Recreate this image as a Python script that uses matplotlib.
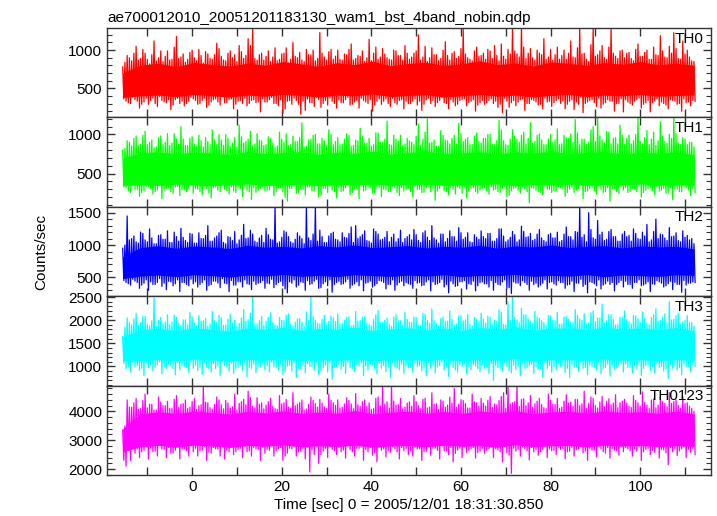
import numpy as np
import matplotlib.pyplot as plt
from matplotlib.ticker import MultipleLocator

plt.rcParams['font.family'] = ['Liberation Sans', 'DejaVu Sans']

#------------------------------------------------DATA------------------------------------------------
# 1 sec bins: main peak (hi), main trough (lo), second peak (hi2), second trough (lo2),
# plus the dense core band every ~4 sec
t = np.arange(-15.5, 112, 1.0)
tc = np.linspace(-15.5, 112.0, 33)

th0_hi = [780, 930, 860, 1050, 890, 960, 820, 1120, 900, 850, 990, 880, 1180, 910, 840, 970,
          900, 1010, 830, 950, 880, 1090, 920, 860, 990, 940, 1060, 890, 1150, 1290, 870, 960,
          920, 850, 1030, 880, 960, 830, 1100, 900, 870, 1010, 940, 860, 1230, 910, 980, 880,
          1000, 870, 940, 1080, 890, 920, 850, 1140, 960, 880, 1020, 900, 870, 990, 930, 1060,
          880, 960, 1200, 910, 850, 1030, 940, 890, 1110, 870, 980, 920, 1270, 900, 860, 1040,
          930, 880, 990, 1060, 860, 920, 1010, 1300, 950, 1310, 890, 1020, 870, 960, 1150, 910,
          870, 1040, 930, 880, 1120, 900, 1290, 960, 850, 1300, 940, 1060, 880, 1280, 920, 990,
          900, 970, 860, 1080, 920, 1000, 880, 940, 1190, 910, 1050, 1230, 890, 1120, 1000, 860]
th0_lo = [330, 300, 350, 240, 320, 290, 370, 260, 340, 310, 220, 350, 300, 270, 330, 360,
          290, 340, 250, 320, 360, 280, 310, 350, 230, 330, 300, 270, 340, 310, 190, 320,
          350, 300, 270, 170, 330, 290, 340, 160, 210, 310, 260, 350, 300, 280, 330, 240,
          310, 350, 280, 320, 240, 340, 300, 200, 330, 290, 360, 260, 310, 340, 230, 300,
          330, 280, 210, 350, 300, 260, 340, 310, 230, 320, 290, 350, 270, 330, 200, 310,
          290, 340, 300, 250, 180, 330, 310, 270, 350, 210, 300, 340, 280, 230, 320, 260,
          340, 300, 230, 330, 220, 290, 180, 320, 350, 260, 240, 310, 330, 200, 300, 190,
          320, 280, 350, 240, 310, 190, 330, 270, 300, 230, 340, 290, 200, 310, 270, 330]
th0_hi2 = [840, 900, 960, 870, 1010, 880, 940, 860, 990, 920, 870, 1040, 890, 950, 880, 1000,
           860, 930, 980, 890, 940, 1020, 870, 960, 900, 850, 980, 930, 1060, 890, 940, 870,
           990, 910, 860, 950, 1030, 880, 920, 970, 850, 940, 1000, 890, 960, 870, 1010, 920,
           880, 950, 1010, 870, 930, 990, 900, 860, 1040, 910, 950, 880, 1000, 930, 870, 960,
           910, 990, 870, 1050, 900, 940, 860, 1000, 930, 960, 890, 1020, 950, 880, 990, 920,
           960, 1010, 890, 930, 1080, 880, 950, 990, 910, 1040, 960, 900, 1000, 940, 880, 1010,
           940, 880, 1000, 960, 910, 1030, 950, 880, 1070, 920, 990, 900, 1040, 960, 890, 1000,
           960, 890, 1010, 920, 970, 880, 1040, 930, 990, 900, 960, 1020, 880, 950, 910, 850]
th0_lo2 = [360, 310, 380, 330, 290, 370, 340, 300, 390, 320, 350, 280, 370, 330, 300, 380,
           340, 300, 370, 280, 350, 320, 390, 310, 360, 290, 340, 370, 300, 350, 320, 360,
           320, 380, 300, 350, 230, 340, 370, 290, 330, 360, 310, 380, 250, 340, 370, 300,
           350, 310, 380, 290, 340, 370, 320, 350, 280, 360, 330, 300, 370, 290, 350, 330,
           300, 360, 330, 290, 370, 340, 310, 380, 300, 350, 270, 340, 360, 310, 350, 280,
           340, 310, 360, 330, 290, 370, 250, 340, 320, 360, 300, 350, 320, 290, 370, 330,
           310, 360, 330, 290, 350, 320, 380, 300, 340, 310, 370, 290, 350, 330, 300, 360,
           350, 300, 330, 370, 290, 340, 310, 360, 320, 280, 350, 330, 300, 360, 320, 340]
th0_clo = [380, 400, 410, 390, 420, 400, 385, 410, 395, 420, 405, 385, 410, 400, 425, 390, 405,
           415, 385, 400, 420, 395, 410, 385, 405, 420, 390, 410, 400, 420, 395, 405, 410]
th0_chi = [700, 800, 830, 780, 840, 810, 790, 830, 800, 850, 820, 785, 835, 810, 855, 795, 825,
           840, 800, 820, 860, 810, 830, 790, 845, 825, 800, 835, 815, 850, 805, 830, 800]

th1_hi = [800, 920, 850, 980, 880, 1040, 900, 830, 960, 870, 1010, 890, 940, 1100, 860, 950,
          880, 990, 840, 910, 1060, 870, 930, 1000, 850, 960, 1120, 890, 940, 860, 1010, 920,
          870, 950, 830, 1030, 900, 860, 980, 910, 1150, 850, 940, 1000, 880, 920, 1060, 870,
          960, 880, 1010, 850, 930, 1080, 890, 950, 870, 1020, 900, 1170, 860, 940, 990, 880,
          920, 870, 1130, 940, 1200, 900, 850, 1050, 930, 880, 990, 1140, 910, 960, 870, 1020,
          890, 950, 1000, 870, 1180, 920, 860, 1060, 940, 990, 880, 1150, 910, 1010, 870, 940,
          900, 1070, 880, 960, 1010, 1190, 870, 940, 900, 1100, 1220, 930, 1040, 880, 960, 1120,
          870, 990, 920, 1210, 880, 1050, 940, 860, 1160, 910, 1000, 1220, 890, 960, 870, 900]
th1_lo = [320, 260, 300, 210, 280, 330, 240, 290, 180, 310, 270, 330, 220, 290, 310, 250,
          300, 230, 310, 190, 330, 270, 300, 240, 280, 320, 210, 290, 170, 260, 310, 280,
          290, 220, 320, 270, 150, 310, 250, 300, 230, 330, 280, 200, 310, 260, 290, 190,
          270, 320, 230, 300, 180, 280, 330, 250, 310, 210, 290, 270, 320, 220, 280, 310,
          200, 300, 260, 320, 270, 160, 310, 280, 230, 300, 330, 250, 190, 310, 270, 290,
          320, 240, 290, 270, 310, 200, 280, 320, 250, 300, 130, 310, 270, 230, 300, 260,
          280, 320, 210, 300, 260, 310, 180, 280, 320, 240, 300, 270, 150, 310, 250, 290,
          260, 310, 270, 200, 290, 320, 230, 280, 310, 250, 170, 300, 270, 320, 220, 260]
th1_hi2 = [820, 900, 950, 860, 990, 870, 930, 840, 980, 900, 860, 1010, 880, 940, 860, 970,
           850, 920, 960, 870, 930, 1000, 860, 950, 890, 840, 970, 910, 1040, 880, 930, 860,
           970, 890, 850, 940, 1010, 870, 910, 960, 840, 930, 990, 880, 950, 860, 1000, 910,
           870, 940, 990, 860, 920, 980, 890, 850, 1020, 900, 940, 870, 990, 920, 860, 950,
           900, 980, 860, 1030, 890, 930, 850, 990, 920, 950, 880, 1010, 940, 870, 980, 910,
           950, 1000, 880, 920, 1060, 870, 940, 980, 900, 1030, 950, 890, 990, 930, 870, 1000,
           930, 870, 990, 950, 900, 1020, 940, 870, 1060, 910, 980, 890, 1030, 950, 880, 990,
           950, 880, 1000, 910, 960, 870, 1030, 920, 980, 890, 950, 1010, 870, 940, 900, 840]
th1_lo2 = [330, 280, 350, 300, 260, 340, 310, 270, 360, 290, 320, 250, 340, 300, 270, 350,
           310, 270, 340, 250, 320, 290, 360, 280, 330, 260, 310, 340, 270, 320, 290, 330,
           290, 350, 270, 320, 200, 310, 340, 260, 300, 330, 280, 350, 220, 310, 340, 270,
           320, 280, 350, 260, 310, 340, 290, 320, 250, 330, 300, 270, 340, 260, 320, 300,
           270, 330, 300, 260, 340, 310, 280, 350, 270, 320, 240, 310, 330, 280, 320, 250,
           310, 280, 330, 300, 260, 340, 220, 310, 290, 330, 270, 320, 290, 260, 340, 300,
           280, 330, 300, 260, 320, 290, 350, 270, 310, 280, 340, 260, 320, 300, 270, 330,
           320, 270, 300, 340, 260, 310, 280, 330, 290, 250, 320, 300, 270, 330, 290, 310]
th1_clo = [350, 360, 350, 365, 355, 345, 360, 370, 350, 355, 365, 345, 360, 355, 370, 350, 360,
           365, 350, 355, 360, 370, 345, 360, 355, 365, 350, 360, 355, 370, 350, 360, 355]
th1_chi = [700, 760, 780, 750, 775, 765, 740, 785, 755, 770, 780, 745, 775, 760, 790, 750, 770,
           785, 755, 765, 780, 750, 775, 760, 785, 755, 770, 780, 750, 775, 760, 780, 740]

th2_hi = [950, 1450, 1100, 1050, 1200, 1080, 1250, 1020, 1150, 1090, 1220, 1040, 1130, 1260, 1070, 1180,
          1030, 1190, 1100, 1300, 1060, 1140, 1230, 1020, 1120, 1210, 1080, 1320, 1110, 1170, 1040, 1150,
          1260, 1090, 1600, 1050, 1220, 1130, 1030, 1190, 1100, 1600, 1070, 1600, 1230, 1040, 1140, 1200,
          1080, 1190, 1110, 1280, 1300, 1130, 1220, 1060, 1250, 1170, 1090, 1210, 1120, 1050, 1230, 1100,
          1160, 1240, 1070, 1190, 1120, 1300, 1080, 1170, 1050, 1220, 1130, 1270, 1090, 1190, 1040, 1120,
          1220, 1100, 1180, 1060, 1250, 1140, 1080, 1210, 1050, 1290, 1120, 1180, 1090, 1240, 1070, 1160,
          1110, 1200, 1070, 1280, 1130, 1210, 1600, 1160, 1500, 1110, 1380, 1200, 1090, 1240, 1130, 1060,
          1210, 1150, 1250, 1100, 1200, 1320, 1080, 1400, 1170, 1110, 1270, 1140, 1070, 1220, 1150, 1100]
th2_lo = [420, 380, 440, 330, 410, 300, 390, 420, 360, 310, 430, 400, 280, 420, 370, 400,
          350, 420, 300, 390, 440, 340, 410, 280, 380, 430, 350, 400, 310, 390, 420, 330,
          400, 340, 420, 370, 260, 410, 350, 430, 300, 390, 440, 330, 400, 370, 270, 420,
          390, 430, 330, 400, 370, 290, 420, 350, 400, 440, 320, 390, 300, 420, 370, 400,
          330, 410, 370, 430, 290, 390, 420, 350, 260, 400, 370, 430, 320, 390, 290, 420,
          400, 350, 300, 390, 430, 330, 250, 410, 370, 420, 300, 390, 350, 410, 320, 430,
          380, 420, 330, 390, 280, 410, 360, 260, 420, 370, 320, 400, 390, 290, 420, 350,
          390, 330, 420, 370, 400, 280, 390, 430, 350, 400, 310, 390, 270, 380, 410, 420]
th2_hi2 = [1000, 1080, 1140, 1030, 1180, 1050, 1110, 1020, 1160, 1090, 1040, 1200, 1060, 1120, 1040, 1170,
           1030, 1100, 1150, 1060, 1110, 1190, 1040, 1130, 1070, 1020, 1150, 1100, 1230, 1060, 1110, 1040,
           1160, 1080, 1030, 1120, 1200, 1050, 1090, 1140, 1020, 1110, 1170, 1060, 1130, 1040, 1180, 1090,
           1050, 1120, 1180, 1040, 1100, 1160, 1070, 1030, 1210, 1080, 1120, 1050, 1170, 1100, 1040, 1130,
           1080, 1160, 1040, 1220, 1070, 1110, 1030, 1170, 1100, 1130, 1060, 1190, 1120, 1050, 1160, 1090,
           1130, 1180, 1060, 1100, 1250, 1050, 1120, 1160, 1080, 1210, 1130, 1070, 1170, 1110, 1050, 1180,
           1110, 1050, 1170, 1130, 1080, 1200, 1120, 1050, 1240, 1090, 1160, 1070, 1210, 1130, 1060, 1170,
           1130, 1060, 1180, 1090, 1140, 1050, 1210, 1100, 1160, 1070, 1130, 1190, 1050, 1120, 1080, 1020]
th2_lo2 = [450, 400, 470, 420, 380, 460, 430, 390, 480, 410, 440, 370, 460, 420, 390, 470,
           430, 390, 460, 370, 440, 410, 480, 400, 450, 380, 430, 460, 390, 440, 410, 450,
           410, 470, 390, 440, 320, 430, 460, 380, 420, 450, 400, 470, 340, 430, 460, 390,
           440, 400, 470, 380, 430, 460, 410, 440, 370, 450, 420, 390, 460, 380, 440, 420,
           390, 450, 420, 380, 460, 430, 400, 470, 390, 440, 360, 430, 450, 400, 440, 370,
           430, 400, 450, 420, 380, 460, 340, 430, 410, 450, 390, 440, 410, 380, 460, 420,
           400, 450, 420, 380, 440, 410, 470, 390, 430, 400, 460, 380, 440, 420, 390, 450,
           440, 390, 420, 460, 380, 430, 400, 450, 410, 370, 440, 420, 390, 450, 410, 430]
th2_clo = [480, 520, 535, 510, 540, 525, 505, 535, 520, 545, 515, 530, 510, 540, 525, 515, 535,
           520, 540, 510, 530, 525, 545, 515, 530, 520, 540, 510, 535, 525, 515, 540, 530]
th2_chi = [820, 960, 990, 950, 985, 970, 945, 995, 965, 980, 955, 990, 970, 1000, 960, 975, 990,
           955, 980, 965, 995, 950, 985, 970, 1000, 960, 980, 990, 955, 985, 970, 980, 940]

th3_hi = [1650, 2050, 1900, 2150, 1950, 2080, 1880, 2480, 2000, 1920, 2120, 1960, 2060, 1890, 2010, 2170,
          1940, 2100, 1990, 1870, 2190, 1960, 2050, 1900, 2130, 2000, 1930, 2230, 2010, 2520, 1920, 2080,
          1980, 2160, 1900, 2060, 1990, 2140, 1880, 2030, 1960, 2180, 2500, 2000, 1920, 2110, 1980, 2050,
          2140, 1930, 2060, 1880, 2190, 1990, 2080, 1910, 2020, 2210, 1950, 2050, 1870, 2120, 1990, 2170,
          1960, 2070, 1890, 2150, 2000, 2240, 1920, 2040, 1970, 2200, 1900, 2090, 1990, 2130, 1880, 2020,
          2150, 1940, 2060, 2000, 2220, 1910, 2400, 2520, 2010, 2260, 2120, 1980, 2190, 2040, 1950, 2100,
          2000, 2170, 1920, 2080, 1970, 2230, 2030, 2140, 1940, 2200, 2050, 2350, 1990, 2120, 1900, 2060,
          2200, 1970, 2110, 2030, 2180, 1930, 2060, 2250, 2000, 2140, 2400, 2020, 2150, 1960, 2100, 1950]
th3_lo = [950, 880, 1000, 920, 800, 980, 900, 1040, 840, 960, 1010, 820, 930, 1000, 870, 960,
          910, 830, 990, 880, 950, 800, 1020, 900, 850, 980, 920, 780, 960, 870, 1000, 930,
          880, 990, 920, 830, 1010, 900, 760, 960, 860, 1000, 920, 820, 970, 880, 720, 990,
          940, 850, 980, 890, 1010, 800, 920, 1030, 840, 960, 890, 760, 990, 930, 850, 970,
          870, 990, 910, 800, 960, 860, 1020, 930, 780, 980, 880, 1000, 840, 930, 1010, 890,
          960, 850, 700, 980, 900, 1000, 860, 930, 800, 960, 1010, 850, 940, 770, 960, 880,
          930, 990, 870, 760, 980, 890, 960, 820, 1000, 920, 840, 980, 790, 940, 1010, 880,
          980, 860, 950, 800, 1020, 910, 850, 980, 900, 740, 960, 930, 820, 990, 890, 1000]
th3_hi2 = [1850, 1950, 2030, 1890, 2080, 1910, 1990, 1870, 2060, 1960, 1900, 2110, 1930, 2010, 1900, 2070,
           1880, 1980, 2040, 1920, 1990, 2100, 1890, 2020, 1940, 1870, 2050, 1980, 2150, 1920, 1990, 1890,
           2060, 1950, 1880, 2000, 2110, 1910, 1960, 2040, 1870, 1990, 2080, 1930, 2020, 1900, 2090, 1970,
           1910, 2000, 2080, 1890, 1980, 2060, 1940, 1880, 2120, 1960, 2000, 1910, 2070, 1990, 1890, 2020,
           1950, 2060, 1890, 2130, 1930, 1990, 1880, 2070, 1980, 2020, 1920, 2100, 2010, 1910, 2060, 1970,
           2020, 2090, 1920, 1980, 2180, 1900, 2000, 2060, 1950, 2120, 2030, 1930, 2070, 1990, 1900, 2090,
           1990, 1910, 2070, 2020, 1950, 2110, 2000, 1910, 2160, 1970, 2050, 1940, 2120, 2020, 1920, 2070,
           2020, 1920, 2090, 1960, 2040, 1900, 2120, 1980, 2060, 1940, 2010, 2100, 1910, 2000, 1950, 1870]
th3_lo2 = [1060, 990, 1090, 1020, 960, 1080, 1030, 980, 1100, 1000, 1050, 950, 1080, 1020, 980, 1090,
           1030, 980, 1080, 950, 1060, 1010, 1100, 990, 1070, 960, 1030, 1080, 980, 1050, 1010, 1070,
           1010, 1090, 980, 1050, 880, 1030, 1080, 960, 1020, 1060, 1000, 1090, 910, 1030, 1080, 980,
           1050, 1000, 1090, 960, 1030, 1080, 1010, 1050, 950, 1070, 1020, 980, 1080, 960, 1050, 1020,
           980, 1060, 1020, 960, 1080, 1030, 990, 1090, 980, 1050, 930, 1030, 1060, 990, 1050, 950,
           1030, 990, 1060, 1020, 960, 1080, 900, 1030, 1000, 1060, 980, 1050, 1000, 960, 1080, 1020,
           990, 1060, 1020, 960, 1050, 1000, 1090, 980, 1030, 990, 1080, 960, 1050, 1020, 980, 1060,
           1050, 980, 1020, 1080, 960, 1030, 990, 1060, 1000, 950, 1050, 1020, 980, 1060, 1000, 1040]
th3_clo = [1120, 1130, 1150, 1120, 1160, 1140, 1115, 1155, 1135, 1165, 1125, 1150, 1130, 1160, 1120, 1145, 1155,
           1130, 1160, 1125, 1150, 1140, 1165, 1120, 1145, 1155, 1130, 1160, 1135, 1150, 1125, 1155, 1140]
th3_chi = [1650, 1790, 1830, 1770, 1840, 1800, 1760, 1835, 1795, 1850, 1780, 1820, 1805, 1855, 1775, 1815, 1840,
           1790, 1830, 1780, 1845, 1800, 1860, 1785, 1825, 1840, 1795, 1850, 1810, 1835, 1790, 1845, 1770]

th0123_hi = [3350, 4400, 4150, 4450, 4100, 4600, 4250, 4050, 4500, 4200, 4350, 4100, 4550, 4250, 4400, 4150,
             4450, 4200, 4900, 4300, 4080, 4500, 4230, 4380, 4120, 4600, 4280, 4420, 4700, 4180, 4480, 4300,
             4220, 4450, 4100, 4550, 4300, 4150, 4650, 4250, 4400, 4080, 4500, 4270, 4420, 4160, 4600, 4300,
             4400, 4150, 4480, 4260, 4620, 4180, 4400, 4300, 4100, 4500, 4900, 4330, 4900, 4220, 4450, 4150,
             4330, 4550, 4200, 4420, 4120, 4650, 4270, 4400, 4150, 4500, 4800, 4250, 4380, 4120, 4600, 4300,
             4450, 4180, 4520, 4260, 4380, 4650, 4900, 4300, 4900, 4420, 4200, 4550, 4270, 4450, 4130, 4600,
             4250, 4450, 4150, 4580, 4320, 4420, 4200, 4700, 4280, 4450, 4120, 4520, 4350, 4230, 4580, 4300,
             4420, 4180, 4550, 4300, 4680, 4220, 4400, 4130, 4520, 4280, 4650, 4350, 4200, 4500, 4300, 4100]
th0123_lo = [2100, 2300, 2550, 2400, 2650, 2350, 2600, 2450, 2700, 2400, 2550, 2650, 2350, 2700, 2450, 2600,
             2450, 2650, 2300, 2550, 2700, 2450, 2350, 2600, 2500, 2680, 2400, 2600, 2450, 2700, 2300, 2550,
             2650, 2450, 2700, 2300, 2550, 2700, 2450, 2600, 2350, 1900, 2500, 2200, 2620, 2400, 2680, 2500,
             2600, 2380, 2670, 2450, 2720, 2300, 2600, 2480, 2250, 2650, 2420, 2580, 2700, 2350, 2640, 2500,
             2450, 2700, 2300, 2600, 2480, 2720, 2350, 2630, 2500, 2250, 2660, 2400, 2580, 2700, 2380, 2620,
             2550, 2700, 2400, 2660, 2250, 2560, 1850, 2620, 2450, 2700, 2320, 2600, 2480, 2680, 2400, 2640,
             2500, 2680, 2350, 2620, 2450, 2700, 2560, 2300, 2650, 2420, 2700, 2550, 2380, 2660, 2480, 2600,
             2700, 2450, 2620, 2300, 2680, 2500, 2580, 2380, 2660, 2150, 2600, 2470, 2700, 2400, 2580, 2500]
th0123_hi2 = [3500, 4150, 4300, 4080, 4380, 4120, 4250, 4050, 4330, 4200, 4100, 4420, 4140, 4270, 4100, 4350,
              4070, 4230, 4320, 4130, 4240, 4400, 4090, 4290, 4160, 4050, 4340, 4230, 4480, 4130, 4250, 4090,
              4340, 4180, 4070, 4260, 4420, 4110, 4200, 4310, 4050, 4240, 4380, 4150, 4290, 4100, 4390, 4210,
              4120, 4260, 4380, 4090, 4230, 4340, 4170, 4070, 4450, 4190, 4260, 4120, 4360, 4240, 4090, 4290,
              4180, 4340, 4090, 4460, 4150, 4250, 4070, 4360, 4220, 4290, 4140, 4410, 4270, 4120, 4340, 4200,
              4290, 4390, 4140, 4230, 4520, 4110, 4260, 4340, 4180, 4440, 4300, 4150, 4360, 4240, 4100, 4390,
              4240, 4110, 4360, 4290, 4180, 4420, 4260, 4110, 4500, 4200, 4330, 4160, 4440, 4290, 4130, 4360,
              4290, 4140, 4380, 4190, 4310, 4100, 4440, 4220, 4340, 4160, 4280, 4400, 4110, 4270, 4180, 4000]
th0123_lo2 = [2300, 2650, 2800, 2700, 2600, 2780, 2720, 2620, 2820, 2680, 2750, 2560, 2790, 2700, 2630, 2810,
              2720, 2630, 2790, 2580, 2750, 2680, 2820, 2650, 2770, 2600, 2720, 2790, 2630, 2750, 2680, 2770,
              2680, 2810, 2630, 2750, 2450, 2720, 2790, 2600, 2710, 2770, 2660, 2810, 2500, 2720, 2790, 2630,
              2750, 2660, 2810, 2600, 2720, 2790, 2680, 2750, 2560, 2770, 2700, 2630, 2790, 2600, 2750, 2700,
              2630, 2770, 2700, 2600, 2790, 2720, 2650, 2810, 2630, 2750, 2540, 2720, 2770, 2650, 2750, 2570,
              2720, 2650, 2770, 2700, 2600, 2790, 2480, 2720, 2680, 2770, 2630, 2750, 2680, 2600, 2790, 2700,
              2650, 2770, 2700, 2600, 2750, 2680, 2810, 2630, 2720, 2650, 2790, 2600, 2750, 2700, 2630, 2770,
              2750, 2630, 2700, 2790, 2600, 2720, 2650, 2770, 2680, 2560, 2750, 2700, 2630, 2770, 2680, 2720]
th0123_clo = [2600, 2780, 2820, 2760, 2830, 2800, 2750, 2820, 2790, 2840, 2770, 2810, 2780, 2830, 2760, 2800, 2820,
              2770, 2830, 2790, 2810, 2760, 2840, 2780, 2810, 2820, 2770, 2830, 2800, 2820, 2780, 2810, 2790]
th0123_chi = [3400, 3920, 3990, 3930, 4010, 3960, 3910, 4000, 3950, 4020, 3930, 3980, 3940, 4030, 3920, 3970, 4010,
              3940, 4000, 3930, 4020, 3950, 4030, 3920, 3980, 4010, 3940, 4020, 3960, 3990, 3930, 4010, 3920]

labels = ['TH0', 'TH1', 'TH2', 'TH3', 'TH0123']
colors = ['#ff0000', '#00ff00', '#0000ff', '#00ffff', '#ff00ff']
his = [th0_hi, th1_hi, th2_hi, th3_hi, th0123_hi]
los = [th0_lo, th1_lo, th2_lo, th3_lo, th0123_lo]
his2 = [th0_hi2, th1_hi2, th2_hi2, th3_hi2, th0123_hi2]
los2 = [th0_lo2, th1_lo2, th2_lo2, th3_lo2, th0123_lo2]
clos = [th0_clo, th1_clo, th2_clo, th3_clo, th0123_clo]
chis = [th0_chi, th1_chi, th2_chi, th3_chi, th0123_chi]
ylims = [(118, 1290), (77, 1218), (208, 1592), (587, 2520), (1793, 4897)]
ymaj = [500, 500, 500, 500, 1000]
ymin = [100, 100, 100, 100, 200]

#------------------------------------------------PLOT------------------------------------------------
fig = plt.figure(figsize=(7.17, 5.16), dpi=100)
left, width = 107/717, 604/717
top, bottom = 1-28/516, 1-475/516
h = (top-bottom)/5
frame = '#333333'

for k in range(5):
	ax = fig.add_axes([left, top-(k+1)*h, width, h])
	# one zigzag per panel: hi, lo2, hi2, lo inside every 1 sec bin
	n = len(t)
	x = np.empty(4*n)
	y = np.empty(4*n)
	x[0::4] = t
	x[1::4] = t+0.25
	x[2::4] = t+0.5
	x[3::4] = t+0.75
	y[0::4] = his[k]
	y[1::4] = los2[k]
	y[2::4] = his2[k]
	y[3::4] = los[k]
	ax.fill_between(tc, clos[k], chis[k], color=colors[k], lw=0)
	ax.plot(x, y, color=colors[k], lw=0.9)
	ax.set_xlim(-19, 115.8)
	ax.set_ylim(ylims[k])
	ax.xaxis.set_major_locator(MultipleLocator(20))
	ax.xaxis.set_minor_locator(MultipleLocator(10))
	ax.yaxis.set_major_locator(MultipleLocator(ymaj[k]))
	ax.yaxis.set_minor_locator(MultipleLocator(ymin[k]))
	ax.tick_params(which='both', direction='in', top=True, right=True, color=frame, labelsize=11)
	ax.tick_params(which='major', length=6, width=1)
	ax.tick_params(which='minor', length=3.5, width=0.8)
	ax.tick_params(axis='x', which='minor', length=6, width=1)
	if k < 4:
		ax.tick_params(axis='x', labelbottom=False)
	for s in ax.spines.values():
		s.set_color(frame)
		s.set_linewidth(1)
	ax.text(0.988, 0.96, labels[k], transform=ax.transAxes, ha='right', va='top', fontsize=11)
	if k == 0:
		ax.set_title('ae700012010_20051201183130_wam1_bst_4band_nobin.qdp', loc='left', fontsize=11, pad=4)
	if k == 4:
		ax.set_xlabel('Time [sec] 0 = 2005/12/01 18:31:30.850', fontsize=11, labelpad=3)

fig.text(0.057, 0.5*(top+bottom), 'Counts/sec', rotation=90, ha='center', va='center', fontsize=11)

plt.savefig('out.png', dpi=100)
